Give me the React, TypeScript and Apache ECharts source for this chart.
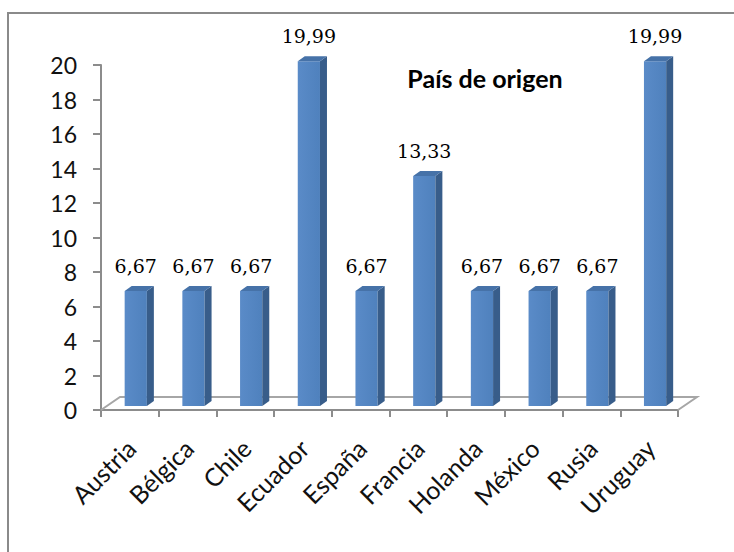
import React, { useEffect, useRef } from "react";
import * as echarts from "echarts";

const categories = ["Austria", "Bélgica", "Chile", "Ecuador", "España", "Francia", "Holanda", "México", "Rusia", "Uruguay"];
const values = [6.67, 6.67, 6.67, 19.99, 6.67, 13.33, 6.67, 6.67, 6.67, 19.99];
const yMin = 0;
const yMax = 20;
const yInterval = 2;
const titleText = "País de origen";

const fmt = (v: number) => v.toFixed(2).replace(".", ",");

export default function App() {
  const ref = useRef<HTMLDivElement>(null);
  useEffect(() => {
    if (!ref.current) return;
    const chart = echarts.init(ref.current, undefined, { renderer: "svg" });
    const axisGray = "#8c8c8c";
    const option: any = {
      animation: false,
      backgroundColor: "#ffffff",
      grid: { left: 101, right: 56, top: 65, bottom: 142, containLabel: false },
      graphic: [
        {
          type: "rect",
          shape: { x: 8, y: 13, width: 760, height: 600 },
          style: { fill: "none", stroke: "#8a8a8a", lineWidth: 2 },
          z: 0,
        },
        {
          type: "text",
          x: 485,
          y: 78,
          style: {
            text: titleText,
            align: "center",
            verticalAlign: "middle",
            fontFamily: "Lato",
            fontWeight: "bold",
            fontSize: 25,
            fill: "#000",
          },
          z: 10,
        },
      ],
      xAxis: {
        type: "category",
        data: categories,
        boundaryGap: true,
        axisLine: { show: true, lineStyle: { color: axisGray, width: 2 } },
        axisTick: { show: true, length: 7, alignWithLabel: false, lineStyle: { color: axisGray, width: 2 } },
        axisLabel: {
          rotate: 45,
          margin: 17,
          interval: 0,
          verticalAlign: "top",
          padding: [0, 11, 0, 0],
          fontFamily: "Lato",
          fontSize: 25,
          color: "#111",
        },
        splitLine: { show: false },
      },
      yAxis: {
        type: "value",
        min: yMin,
        max: yMax,
        interval: yInterval,
        axisLine: { show: true, lineStyle: { color: axisGray, width: 2 } },
        axisTick: { show: true, length: 8, lineStyle: { color: axisGray, width: 2 } },
        axisLabel: { margin: 24, fontFamily: "Lato", fontSize: 23, color: "#111" },
        splitLine: { show: false },
      },
      series: [
        {
          type: "custom",
          z: 1,
          data: [[0, 0]],
          encode: { x: 0, y: 1 },
          renderItem: (params: any, api: any) => {
            const p0 = api.coord([0, 0]);
            const bw = api.size([1, 0])[0];
            const x0 = p0[0] - bw / 2;
            const x1 = x0 + bw * categories.length;
            const y0 = p0[1];
            return {
              type: "polyline",
              shape: {
                points: [
                  [x0, y0],
                  [x0 + 19, y0 - 13],
                  [x1 + 19, y0 - 13],
                  [x1, y0],
                ],
              },
              style: { stroke: "#a6a6a6", lineWidth: 2, fill: "none" },
            };
          },
        },
        {
          type: "custom",
          z: 2,
          data: values.map((v, i) => [i, v]),
          encode: { x: 0, y: 1 },
          renderItem: (params: any, api: any) => {
            const idx = api.value(0);
            const v = api.value(1);
            const pt = api.coord([idx, v]);
            const pb = api.coord([idx, 0]);
            const bw = api.size([1, 0])[0];
            const cx = pt[0];
            const fl = cx - bw * 0.09;
            const w = bw * 0.385;
            const fr = fl + w;
            const oy = -4;
            const dx = 7;
            const dy = 5;
            const top = pt[1] + oy;
            const bot = pb[1] + oy;
            return {
              type: "group",
              children: [
                {
                  type: "rect",
                  shape: { x: fl, y: top, width: w, height: bot - top },
                  style: {
                    fill: new echarts.graphic.LinearGradient(0, 0, 1, 0, [
                      { offset: 0, color: "#5a8bc8" },
                      { offset: 1, color: "#4f81bd" },
                    ]),
                  },
                },
                {
                  type: "polygon",
                  shape: { points: [[fr, top], [fr + dx, top - dy], [fr + dx, bot - dy], [fr, bot]] },
                  style: { fill: "#385d8a" },
                },
                {
                  type: "polygon",
                  shape: { points: [[fl, top], [fl + dx, top - dy], [fr + dx, top - dy], [fr, top]] },
                  style: { fill: "#4672a8" },
                },
                {
                  type: "text",
                  style: {
                    text: fmt(v),
                    x: fl + w / 2,
                    y: top - 25,
                    align: "center",
                    verticalAlign: "middle",
                    fontFamily: "DejaVu Serif",
                    fontSize: 19,
                    fill: "#000",
                  },
                },
              ],
            };
          },
        },
      ],
    };
    chart.setOption(option);
    return () => chart.dispose();
  }, []);
  return (
    <div
      ref={ref}
      style={{ position: "fixed", left: 0, top: 0, width: 734, height: 552, background: "#fff" }}
    />
  );
}
